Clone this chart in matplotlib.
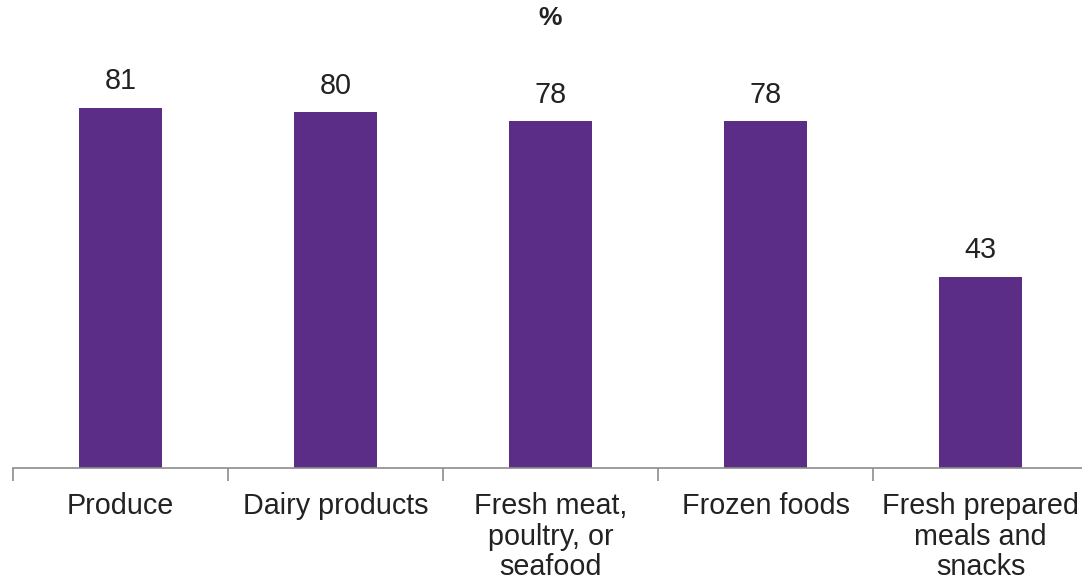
import matplotlib
matplotlib.use("Agg")
import matplotlib.pyplot as plt
import numpy as np

categories = ["Produce", "Dairy products", "Fresh meat,\npoultry, or\nseafood",
              "Frozen foods", "Fresh prepared\nmeals and\nsnacks"]
values = [81, 80, 78, 78, 43]

plt.rcParams['font.family'] = ['Liberation Sans', 'DejaVu Sans']

W, H = 1082, 586
fig = plt.figure(figsize=(W / 100, H / 100), dpi=100)
ax = fig.add_axes([13 / W, 118 / H, 1075 / W, 468 / H])

x = np.arange(len(categories))
bars = ax.bar(x, values, width=0.386, color='#5B2D86', zorder=2)

ax.set_xlim(-0.5, len(categories) - 0.5)
ax.set_ylim(0, 105.3)

for xi, v in zip(x, values):
    ax.annotate(f"{v}", (xi, v), xytext=(0, 13.5), textcoords='offset points',
                ha='center', va='baseline', fontsize=20.7, color='#222222')

for s in ['top', 'left', 'right']:
    ax.spines[s].set_visible(False)
ax.spines['bottom'].set_color('#8c8c8c')
ax.spines['bottom'].set_linewidth(1.2)

ax.set_yticks([])
ax.set_xticks(x)
ax.set_xticklabels(categories, fontsize=20.7, color='#222222', linespacing=1.1)
ax.tick_params(axis='x', which='major', length=0, pad=17.5)
ax.set_xticks(np.arange(-0.5, len(categories) - 0.5, 1.0), minor=True)
ax.tick_params(axis='x', which='minor', length=9.5, width=1.2, color='#8c8c8c',
               direction='out')

fig.text(550 / W, 1 - 18 / H, "%", ha='center', va='center', fontsize=19,
         fontweight='bold', color='#222222')

fig.savefig("out.png", dpi=100)
